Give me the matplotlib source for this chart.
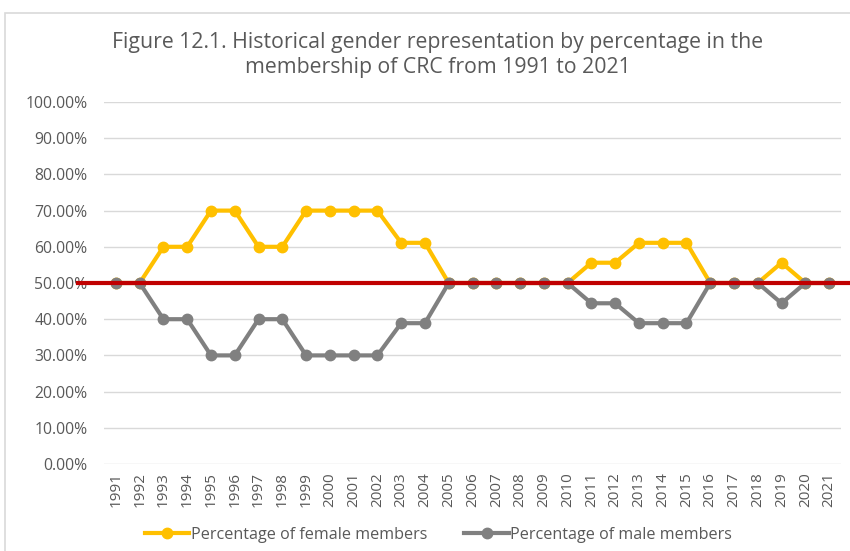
import numpy as np
import matplotlib.pyplot as plt
from matplotlib.patches import Rectangle
from matplotlib.ticker import FuncFormatter

plt.rcParams['font.family'] = ['Open Sans', 'DejaVu Sans']

years = [str(y) for y in range(1991, 2022)]
female = [50, 50, 60, 60, 70, 70, 60, 60, 70, 70, 70, 70, 61.1, 61.1, 50,
          50, 50, 50, 50, 50, 55.6, 55.6, 61.1, 61.1, 61.1, 50, 50, 50, 55.6, 50, 50]
male = [50, 50, 40, 40, 30, 30, 40, 40, 30, 30, 30, 30, 38.9, 38.9, 50,
        50, 50, 50, 50, 50, 44.4, 44.4, 38.9, 38.9, 38.9, 50, 50, 50, 44.4, 50, 50]
parity = 50

fig = plt.figure(figsize=(8.5, 5.51), dpi=100)
fig.patches.append(Rectangle((5 / 850, -0.01), 1.0, 1 - 13 / 551 + 0.01,
                             transform=fig.transFigure, fill=False,
                             edgecolor='#d9d9d9', linewidth=1.2))
ax = fig.add_axes([104 / 850, 1 - 464 / 551, 737 / 850, 362 / 551])

x = np.arange(len(years))
ax.plot(x, female, color='#FFC000', lw=3, marker='o', ms=7.5,
        label='Percentage of female members', zorder=3)
ax.plot(x, male, color='#808080', lw=3, marker='o', ms=7.5,
        label='Percentage of male members', zorder=4)
ax.axhline(parity, xmin=-0.035, xmax=1.01, color='#C00000', lw=3,
           clip_on=False, zorder=5)

ax.set_xlim(-0.5, len(years) - 0.5)
ax.set_ylim(0, 100)
ax.set_yticks(np.arange(0, 101, 10))
ax.yaxis.set_major_formatter(FuncFormatter(lambda v, p: f'{v:.2f}%'))
ax.set_xticks(x)
ax.set_xticklabels(years, rotation=90)
ax.tick_params(axis='both', length=0, colors='#595959')
ax.tick_params(axis='y', pad=12, labelsize=11.3)
ax.tick_params(axis='x', pad=6, labelsize=11)
ax.grid(axis='y', color='#d9d9d9', lw=1)
ax.set_axisbelow(True)
for s in ax.spines.values():
    s.set_visible(False)

fig.text(438 / 850, 1 - 55 / 551, 'Figure 12.1. Historical gender representation by percentage in the\nmembership of CRC from 1991 to 2021',
         ha='center', va='center', fontsize=15.3, color='#595959', linespacing=1.3)

ax.legend(loc='center', bbox_to_anchor=(0.516, (551 - 535) / 551), bbox_transform=fig.transFigure,
          ncol=2, frameon=False, fontsize=11.6, labelcolor='#595959',
          handlelength=2.75, columnspacing=2.3, handletextpad=0.1)

fig.savefig('out.png', dpi=100)
